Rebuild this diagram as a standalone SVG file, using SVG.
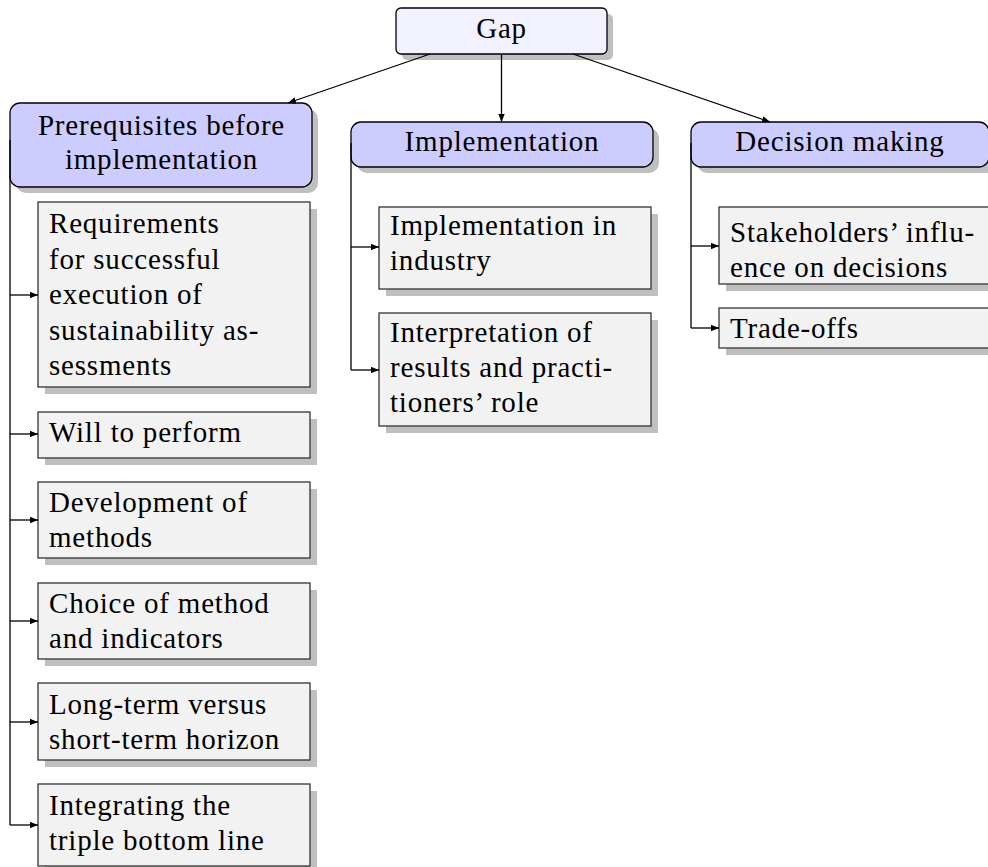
<svg xmlns="http://www.w3.org/2000/svg" width="988" height="867" viewBox="0 0 988 867">
<style>
  text { font-family: 'Liberation Serif', 'Times New Roman', serif; font-size: 29px; letter-spacing: 0.8px; fill: #000; }
  .c { text-anchor: middle; }
  .shadow { fill: #bfbfbf; }
  .top { fill: #f1f1ff; stroke: #000; stroke-width: 1.3; }
  .head { fill: #ccccff; stroke: #000; stroke-width: 1.3; }
  .item { fill: #f2f2f2; stroke: #333; stroke-width: 1.3; }
  .conn { fill: none; stroke: #000; stroke-width: 1.3; }
</style>
<defs>
  <marker id="ah" viewBox="0 0 10 8" refX="10" refY="4" markerWidth="8" markerHeight="6.4" markerUnits="userSpaceOnUse" orient="auto">
    <path d="M0,0 L10,4 L0,8 z" fill="#000"/>
  </marker>
</defs>
<rect width="988" height="867" fill="#fff"/>

<g id="gap">
  <rect class="shadow" x="402" y="14" width="211" height="46" rx="5"/>
  <rect class="top" x="396" y="8" width="211" height="46" rx="5"/>
  <text class="c" x="501.5" y="38">Gap</text>
</g>

<g id="prerequisites">
  <rect class="shadow" x="16" y="109" width="302" height="84" rx="10"/>
  <rect class="head" x="10" y="103" width="302" height="84" rx="10"/>
  <text class="c" x="161.5" y="135">Prerequisites before</text>
  <text class="c" x="161.5" y="169">implementation</text>
</g>

<g id="implementation">
  <rect class="shadow" x="357" y="128" width="302" height="45" rx="10"/>
  <rect class="head" x="351" y="122" width="302" height="45" rx="10"/>
  <text class="c" x="502" y="151">Implementation</text>
</g>

<g id="decision">
  <rect class="shadow" x="697" y="128" width="302" height="45" rx="10"/>
  <rect class="head" x="691" y="122" width="298" height="45" rx="10"/>
  <text class="c" x="840" y="151">Decision making</text>
</g>

<g id="requirements">
  <rect class="shadow" x="45" y="209" width="272" height="185"/>
  <rect class="item" x="38" y="202" width="272" height="185"/>
  <text x="49" y="233">Requirements</text>
  <text x="49" y="268.5">for successful</text>
  <text x="49" y="304">execution of</text>
  <text x="49" y="339.5">sustainability as-</text>
  <text x="49" y="375">sessments</text>
</g>

<g id="will">
  <rect class="shadow" x="45" y="419" width="272" height="46"/>
  <rect class="item" x="38" y="412" width="272" height="46"/>
  <text x="49" y="442">Will to perform</text>
</g>

<g id="development">
  <rect class="shadow" x="45" y="489" width="272" height="76"/>
  <rect class="item" x="38" y="482" width="272" height="76"/>
  <text x="49" y="512">Development of</text>
  <text x="49" y="547">methods</text>
</g>

<g id="choice">
  <rect class="shadow" x="45" y="590" width="272" height="76"/>
  <rect class="item" x="38" y="583" width="272" height="76"/>
  <text x="49" y="612.5">Choice of method</text>
  <text x="49" y="648">and indicators</text>
</g>

<g id="longterm">
  <rect class="shadow" x="45" y="690" width="272" height="77"/>
  <rect class="item" x="38" y="683" width="272" height="77"/>
  <text x="49" y="713.5">Long-term versus</text>
  <text x="49" y="748.5">short-term horizon</text>
</g>

<g id="integrating">
  <rect class="shadow" x="45" y="791" width="272" height="82"/>
  <rect class="item" x="38" y="784" width="272" height="82"/>
  <text x="49" y="815">Integrating the</text>
  <text x="49" y="850">triple bottom line</text>
</g>

<g id="industry">
  <rect class="shadow" x="386" y="214" width="272" height="82"/>
  <rect class="item" x="379" y="207" width="272" height="82"/>
  <text x="390" y="235">Implementation in</text>
  <text x="390" y="270">industry</text>
</g>

<g id="interpretation">
  <rect class="shadow" x="386" y="320" width="272" height="113"/>
  <rect class="item" x="379" y="313" width="272" height="113"/>
  <text x="390" y="341.5">Interpretation of</text>
  <text x="390" y="376.5">results and practi-</text>
  <text x="390" y="411.5">tioners’ role</text>
</g>

<g id="stakeholders">
  <rect class="shadow" x="726" y="214" width="272" height="77"/>
  <rect class="item" x="719" y="207" width="272" height="77"/>
  <text x="730" y="241.5">Stakeholders’ influ-</text>
  <text x="730" y="276.5">ence on decisions</text>
</g>

<g id="tradeoffs">
  <rect class="shadow" x="726" y="315" width="272" height="40"/>
  <rect class="item" x="719" y="308" width="272" height="40"/>
  <text x="730" y="338">Trade-offs</text>
</g>

<g id="connectors">
  <line class="conn" x1="430" y1="54" x2="288" y2="103" marker-end="url(#ah)"/>
  <line class="conn" x1="501.5" y1="54" x2="501.5" y2="122" marker-end="url(#ah)"/>
  <line class="conn" x1="573" y1="54" x2="770" y2="122" marker-end="url(#ah)"/>
  <path class="conn" d="M10,140 V825"/>
  <line class="conn" x1="10" y1="295" x2="38" y2="295" marker-end="url(#ah)"/>
  <line class="conn" x1="10" y1="434" x2="38" y2="434" marker-end="url(#ah)"/>
  <line class="conn" x1="10" y1="520" x2="38" y2="520" marker-end="url(#ah)"/>
  <line class="conn" x1="10" y1="621" x2="38" y2="621" marker-end="url(#ah)"/>
  <line class="conn" x1="10" y1="722" x2="38" y2="722" marker-end="url(#ah)"/>
  <line class="conn" x1="10" y1="825" x2="38" y2="825" marker-end="url(#ah)"/>
  <path class="conn" d="M351,143 V370"/>
  <line class="conn" x1="351" y1="247" x2="379" y2="247" marker-end="url(#ah)"/>
  <line class="conn" x1="351" y1="370" x2="379" y2="370" marker-end="url(#ah)"/>
  <path class="conn" d="M691,143 V328"/>
  <line class="conn" x1="691" y1="246" x2="719" y2="246" marker-end="url(#ah)"/>
  <line class="conn" x1="691" y1="328" x2="719" y2="328" marker-end="url(#ah)"/>
</g>
</svg>
